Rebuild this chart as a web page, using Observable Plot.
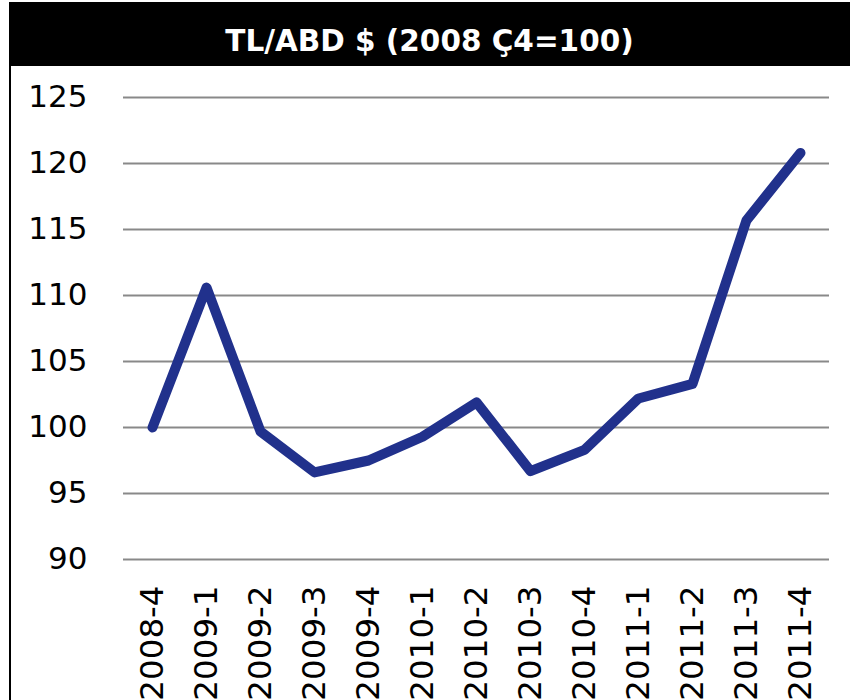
<!DOCTYPE html>
<html><head><meta charset="utf-8">
<script src="https://cdn.jsdelivr.net/npm/d3@7"></script>
<script src="https://cdn.jsdelivr.net/npm/@observablehq/plot@0.6"></script>
<style>
body{margin:0;background:#fff;}
#title{position:absolute;left:9px;top:2px;width:841px;height:64px;box-sizing:border-box;padding-top:14px;background:#000;color:#fff;font:bold 29.5px "DejaVu Sans";display:flex;align-items:center;justify-content:center;}
#chart{position:absolute;left:9px;top:66px;border-left:2px solid #000;height:634px;}
</style></head><body>
<div id="title">TL/ABD $ (2008 Ç4=100)</div>
<div id="chart"></div>
<script>
const quarters = ["2008-4","2009-1","2009-2","2009-3","2009-4","2010-1","2010-2","2010-3","2010-4","2011-1","2011-2","2011-3","2011-4"];
const values = [100.0, 110.6, 99.7, 96.6, 97.5, 99.3, 101.9, 96.7, 98.3, 102.2, 103.3, 115.7, 120.8];
const yTicks = [90, 95, 100, 105, 110, 115, 120, 125];
const data = quarters.map((q, i) => ({q, v: values[i]}));
const plot = Plot.plot({
  width: 839, height: 634,
  marginLeft: 112, marginRight: 21, marginTop: 31, marginBottom: 141,
  style: {fontFamily: "DejaVu Sans", fontSize: "31px", color: "#000", background: "#fff", overflow: "visible"},
  x: {type: "point", domain: quarters, padding: 0.5, label: null},
  y: {domain: [90, 125], label: null},
  marks: [
    Plot.gridY(yTicks, {stroke: "#898989", strokeOpacity: 1, strokeWidth: 2}),
    Plot.axisY(yTicks, {tickSize: 0, tickPadding: 36, fontSize: 31, label: null}),
    Plot.axisX({tickSize: 0, tickRotate: -90, tickPadding: 26, fontSize: 32.5, label: null}),
    Plot.line(data, {x: "q", y: "v", stroke: "#21318c", strokeWidth: 10, strokeLinecap: "round", strokeLinejoin: "round"})
  ]
});
document.getElementById("chart").appendChild(plot);
</script>
</body></html>
